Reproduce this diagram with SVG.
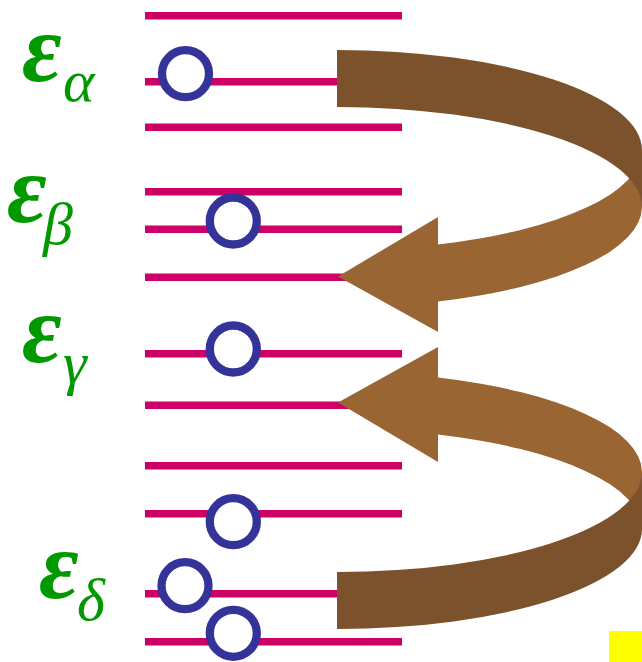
<svg xmlns="http://www.w3.org/2000/svg" width="642" height="662" viewBox="0 0 642 662">
<style>
.lv{stroke:#CC0066;stroke-width:7.5;fill:none}
.el{stroke:#333399;stroke-width:8.3;fill:#fff}
.eps{font-family:"Liberation Serif","Times New Roman",serif;font-style:italic;font-weight:bold;font-size:97px;fill:#009900}
.sub{font-family:"Liberation Serif","Times New Roman",serif;font-style:italic;font-size:60px;fill:#009900}
.dk{fill:#7B522C}
.lt{fill:#996633}
</style>
<defs>
<g id="arrowShape">
<path class="lt" d="M642,150 A305,100 0 0 1 438,244.4 L438,217 L338,276.5 L438,332 L438,301.4 A305,100 0 0 0 642,207 Z"/>
<path class="dk" d="M337,50 A305,100 0 0 1 642,150 L642,207 A305,100 0 0 0 337,107 Z"/>
</g>
</defs>
<g id="levels">
<line class="lv" x1="145" y1="15.7" x2="402" y2="15.7"/>
<line class="lv" x1="145" y1="81.7" x2="402" y2="81.7"/>
<line class="lv" x1="145" y1="127.3" x2="402" y2="127.3"/>
<line class="lv" x1="145" y1="191.7" x2="402" y2="191.7"/>
<line class="lv" x1="145" y1="229.3" x2="402" y2="229.3"/>
<line class="lv" x1="145" y1="277.3" x2="402" y2="277.3"/>
<line class="lv" x1="145" y1="353.7" x2="402" y2="353.7"/>
<line class="lv" x1="145" y1="405.3" x2="402" y2="405.3"/>
<line class="lv" x1="145" y1="465.7" x2="402" y2="465.7"/>
<line class="lv" x1="145" y1="513.7" x2="402" y2="513.7"/>
<line class="lv" x1="145" y1="593.7" x2="402" y2="593.7"/>
<line class="lv" x1="145" y1="641.7" x2="402" y2="641.7"/>
</g>
<g id="electrons">
<circle class="el" cx="185.5" cy="73.7" r="23.5"/>
<circle class="el" cx="233.3" cy="221" r="23.5"/>
<circle class="el" cx="233.3" cy="349" r="23.5"/>
<circle class="el" cx="233.3" cy="521.7" r="23.5"/>
<circle class="el" cx="185" cy="585.7" r="23.5"/>
<circle class="el" cx="233.3" cy="633.3" r="23.5"/>
</g>
<g id="connectors">
<use href="#arrowShape"/>
<use href="#arrowShape" transform="matrix(1,0,0,-1,0,679)"/>
</g>
<g id="label-alpha"><text class="eps" x="22" y="81">ε</text><text class="sub" x="63" y="101">α</text></g>
<g id="label-beta"><text class="eps" x="7" y="222">ε</text><text class="sub" x="43" y="244">β</text></g>
<g id="label-gamma"><text class="eps" x="22" y="362">ε</text><text class="sub" x="63" y="383">γ</text></g>
<g id="label-delta"><text class="eps" x="39" y="598">ε</text><text class="sub" x="77" y="620">δ</text></g>
<rect id="marker" x="609" y="631" width="33" height="31" fill="#FFFF00"/>
</svg>
